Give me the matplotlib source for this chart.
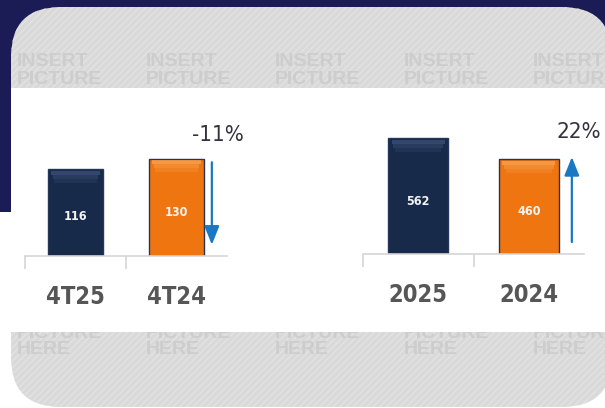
import matplotlib
matplotlib.use("Agg")
import matplotlib.pyplot as plt
from matplotlib.patches import FancyBboxPatch, Rectangle

# data
quarter_labels = ["4T25", "4T24"]
quarter_values = [116, 130]
quarter_change = "-11%"

year_labels = ["2025", "2024"]
year_values = [562, 460]
year_change = "22%"

NAVY_BG = "#1b1b56"
BAR_NAVY = "#172a4a"
BAR_ORANGE = "#ef7511"
ARROW = "#1a78c2"
COND = dict(family="DejaVu Sans", fontstretch="condensed")

plt.rcParams["hatch.linewidth"] = 0.9

fig = plt.figure(figsize=(6.05, 4.08), dpi=100)
fig.patch.set_facecolor("white")

# background in pixel coordinates
bg = fig.add_axes([0, 0, 1, 1])
bg.set_xlim(0, 605)
bg.set_ylim(408, 0)
bg.axis("off")

bg.add_patch(Rectangle((0, 0), 605, 212, fc=NAVY_BG, lw=0, zorder=0))
frame = FancyBboxPatch((11, 7), 601, 400, boxstyle="round,pad=0,rounding_size=50",
                       fc="#d9d9d9", ec="#e4e4e4", hatch="/////", lw=0, zorder=1)
bg.add_patch(frame)

# placeholder watermark
for x in [17, 146, 275, 404, 533]:
    for y, word in [(62, "INSERT"), (79, "PICTURE"), (333, "PICTURE"), (350, "HERE")]:
        t = bg.text(x, y, word, fontsize=14, fontweight="bold", color="#cdcdcd",
                    family="Liberation Sans", ha="left", va="center", zorder=2)
        t.set_clip_path(frame)

bg.add_patch(Rectangle((11, 88), 600, 244, fc="white", lw=0, zorder=3))


def bar_panel(rect, labels, values, change, ymax, px_per_unit, arrow_x, arrow_from, arrow_to, txt_xy):
    ax = fig.add_axes(rect)
    ax.patch.set_alpha(0)
    x = range(len(values))
    colors = [BAR_NAVY, BAR_ORANGE]
    edges = ["#24375a", "#2a3352"]
    ax.bar(x, values, width=0.54, color=colors, edgecolor=edges, lw=1, zorder=2)
    # lighter bevel fading down from the top of each bar
    tops = ["#4a6088", "#fab56a"]
    for i, v in enumerate(values):
        for k, a in enumerate([0.55, 0.35, 0.18]):
            h = 4 / px_per_unit
            ax.bar(i, h, bottom=v - (k + 1) * h - 1.5 / px_per_unit, width=0.48 - 0.03 * k,
                   color=tops[i], alpha=a, lw=0, zorder=3)
        ax.text(i, v * 0.45, str(v), ha="center", va="center", color="#f4f4f4",
                fontsize=9, fontweight="bold", zorder=4, **COND)
    ax.set_xlim(-0.5, 1.5)
    ax.set_ylim(0, ymax)
    for s in ["top", "right", "left"]:
        ax.spines[s].set_visible(False)
    ax.spines["bottom"].set_color("#d6d6d6")
    ax.spines["bottom"].set_linewidth(1.2)
    ax.set_yticks([])
    ax.set_xticks(list(x))
    ax.set_xticklabels(labels, fontsize=17, fontweight="bold", color="#565656", **COND)
    ax.tick_params(axis="x", which="major", length=0, pad=21)
    ax.set_xticks([-0.5, 0.5], minor=True)
    ax.tick_params(axis="x", which="minor", length=9, color="#d6d6d6", width=1.2)
    ax.annotate("", xy=(arrow_x, arrow_to), xytext=(arrow_x, arrow_from),
                arrowprops=dict(arrowstyle="-|>,head_length=0.45,head_width=0.18",
                                mutation_scale=25, color=ARROW, lw=1.6,
                                shrinkA=0, shrinkB=0), annotation_clip=False)
    ax.text(txt_xy[0], txt_xy[1], change, ha="center", va="center", fontsize=16,
            color="#33333f", clip_on=False, **COND)
    return ax


bar_panel([25 / 605, 152 / 408, 202 / 605, 136 / 408], quarter_labels, quarter_values,
          quarter_change, 136 / 0.75, 0.75, 1.35, 125, 15, (1.41, 161))
bar_panel([363 / 605, 154 / 408, 221 / 605, 134 / 408], year_labels, year_values,
          year_change, 134 / 0.206, 0.206, 1.39, 58, 471, (1.45, 592))

fig.savefig("out.png", dpi=100)
